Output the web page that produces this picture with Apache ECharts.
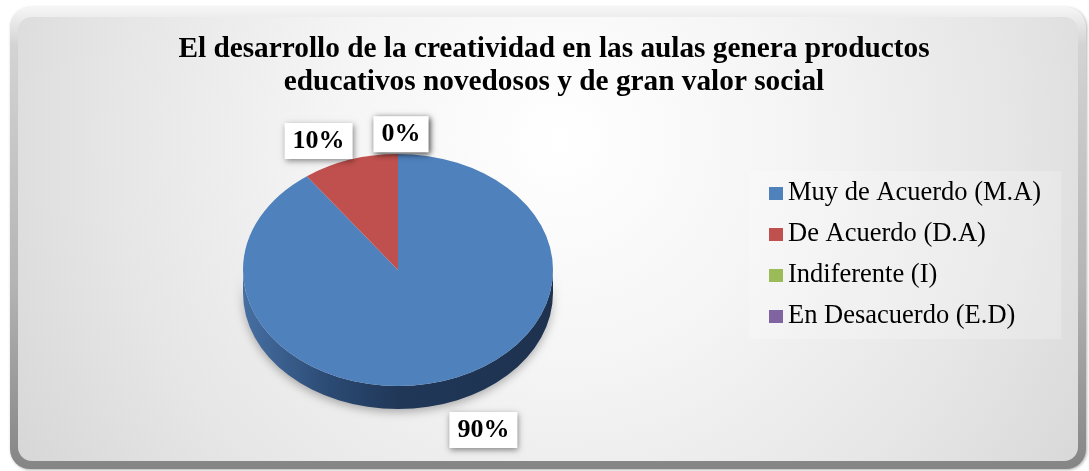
<!DOCTYPE html>
<html>
<head>
<meta charset="utf-8">
<script src="https://cdn.jsdelivr.net/npm/echarts@6/dist/echarts.min.js"></script>
<style>
  html, body { margin: 0; padding: 0; background: #fff; }
  #chart { width: 1089px; height: 471px; }
</style>
</head>
<body>
<div id="chart"></div>
<script>
const titleText = 'El desarrollo de la creatividad en las aulas genera productos\neducativos novedosos y de gran valor social'
const names = ['Muy de Acuerdo (M.A)', 'De Acuerdo (D.A)', 'Indiferente (I)', 'En Desacuerdo (E.D)']
const values = [90, 10, 0, 0]
const colors = ['#4F81BD', '#C0504D', '#9BBB59', '#8064A2']
const sideColors = [
  ['#466fa2', '#2b4a73', '#203758', '#1e324f'],
  ['#a54542', '#7e3432', '#652826', '#5e2523'],
  ['#86a24c', '#62773a', '#4f602e', '#4a5a2b'],
  ['#6f568d', '#54416a', '#433455', '#3e3050']
]

const total = values.reduce((s, v) => s + v, 0)

// geometria del pastel "3d" (elipse superior + canto)
const cx = 398, cy = 270, rx = 155, ry = 116, depth = 23

function pt (a, dy) {
  return [cx + rx * Math.sin(a), cy - ry * Math.cos(a) + (dy || 0)]
}

function renderSlice (params, api) {
  const i = params.dataIndex
  let before = 0
  for (let k = 0; k < i; k++) before += values[k]
  const v = api.value(0)
  const a1 = before / total * Math.PI * 2
  const a2 = (before + v) / total * Math.PI * 2
  const children = []

  // canto frontal
  const s = Math.max(a1, Math.PI / 2)
  const e = Math.min(a2, Math.PI * 1.5)
  if (e > s) {
    const p1 = pt(s), p2 = pt(e), p3 = pt(e, depth), p4 = pt(s, depth)
    const sc = sideColors[i]
    children.push({
      type: 'path',
      shape: {
        pathData: 'M' + p1[0] + ' ' + p1[1] +
          ' A' + rx + ' ' + ry + ' 0 0 1 ' + p2[0] + ' ' + p2[1] +
          ' L' + p3[0] + ' ' + p3[1] +
          ' A' + rx + ' ' + ry + ' 0 0 0 ' + p4[0] + ' ' + p4[1] + ' Z'
      },
      style: {
        fill: {
          type: 'linear', x: 1, y: 0, x2: 0, y2: 0,
          colorStops: [
            { offset: 0, color: sc[3] },
            { offset: 0.5, color: sc[2] },
            { offset: 0.72, color: sc[1] },
            { offset: 1, color: sc[0] }
          ]
        },
        shadowBlur: 10,
        shadowColor: 'rgba(0,0,0,0.3)',
        shadowOffsetY: 3
      },
      z2: 1
    })
  }

  // cara superior
  if (v > 0) {
    const q1 = pt(a1), q2 = pt(a2)
    const large = (a2 - a1) > Math.PI ? 1 : 0
    children.push({
      type: 'path',
      shape: {
        pathData: 'M' + cx + ' ' + cy +
          ' L' + q1[0] + ' ' + q1[1] +
          ' A' + rx + ' ' + ry + ' 0 ' + large + ' 1 ' + q2[0] + ' ' + q2[1] + ' Z'
      },
      style: { fill: colors[i] },
      z2: 2
    })
  }

  // etiqueta
  const mid = (a1 + a2) / 2
  const front = Math.cos(mid) < 0
  const lx = cx + 3 + rx * 1.72 * Math.sin(mid)
  const ly = cy - ry * 1.17 * Math.cos(mid) + (front ? depth + 8 : 0)
  children.push({
    type: 'text',
    z2: 10,
    style: {
      text: Math.round(v / total * 100) + '%',
      x: lx,
      y: ly,
      align: 'center',
      verticalAlign: 'middle',
      fill: '#000',
      font: 'bold 26px "Liberation Serif", "Times New Roman", serif',
      backgroundColor: '#fff',
      padding: [5, 8, 5, 8],
      shadowBlur: 6,
      shadowColor: 'rgba(0,0,0,0.45)',
      shadowOffsetX: 1,
      shadowOffsetY: 2
    }
  })

  return { type: 'group', children: children }
}

const myChart = echarts.init(document.getElementById('chart'))

myChart.setOption({
  animation: false,
  color: colors,
  graphic: [
    {
      type: 'rect',
      z: -10,
      shape: { x: 10, y: 7, width: 1076, height: 462, r: 20 },
      style: {
        fill: {
          type: 'linear', x: 0, y: 0, x2: 0, y2: 1,
          colorStops: [
            { offset: 0, color: '#f6f6f6' },
            { offset: 0.08, color: '#d4d4d4' },
            { offset: 0.6, color: '#b4b4b4' },
            { offset: 1, color: '#858585' }
          ]
        },
        shadowBlur: 3,
        shadowColor: 'rgba(0,0,0,0.3)',
        shadowOffsetX: 1,
        shadowOffsetY: 1
      }
    },
    {
      type: 'rect',
      z: -9,
      shape: { x: 18, y: 17, width: 1060, height: 444, r: 14 },
      style: {
        fill: {
          type: 'radial', x: 560, y: 140, r: 640, global: true,
          colorStops: [
            { offset: 0, color: '#ffffff' },
            { offset: 0.35, color: '#f5f5f5' },
            { offset: 0.7, color: '#e6e6e6' },
            { offset: 1, color: '#d6d6d6' }
          ]
        }
      }
    }
  ],
  title: {
    text: titleText,
    left: 549,
    top: 28,
    textAlign: 'center',
    textStyle: {
      fontFamily: '"Liberation Serif", "Times New Roman", serif',
      fontWeight: 'bold',
      fontSize: 29.3,
      lineHeight: 33,
      color: '#000'
    }
  },
  legend: {
    orient: 'vertical',
    left: 749,
    top: 171,
    padding: [9, 20, 9, 20],
    backgroundColor: 'rgba(255,255,255,0.22)',
    icon: 'rect',
    itemWidth: 14,
    itemHeight: 13,
    itemGap: 14,
    selectedMode: false,
    data: names,
    textStyle: {
      fontFamily: '"Liberation Serif", "Times New Roman", serif',
      fontSize: 26.5,
      lineHeight: 26,
      color: '#000'
    }
  },
  series: [
    {
      // solo para la leyenda
      type: 'pie',
      radius: 0,
      center: [-50, -50],
      silent: true,
      label: { show: false },
      labelLine: { show: false },
      data: names.map((n, i) => ({ name: n, value: values[i], itemStyle: { color: colors[i] } }))
    },
    {
      type: 'custom',
      coordinateSystem: 'none',
      renderItem: renderSlice,
      data: values
    }
  ]
})
</script>
</body>
</html>
